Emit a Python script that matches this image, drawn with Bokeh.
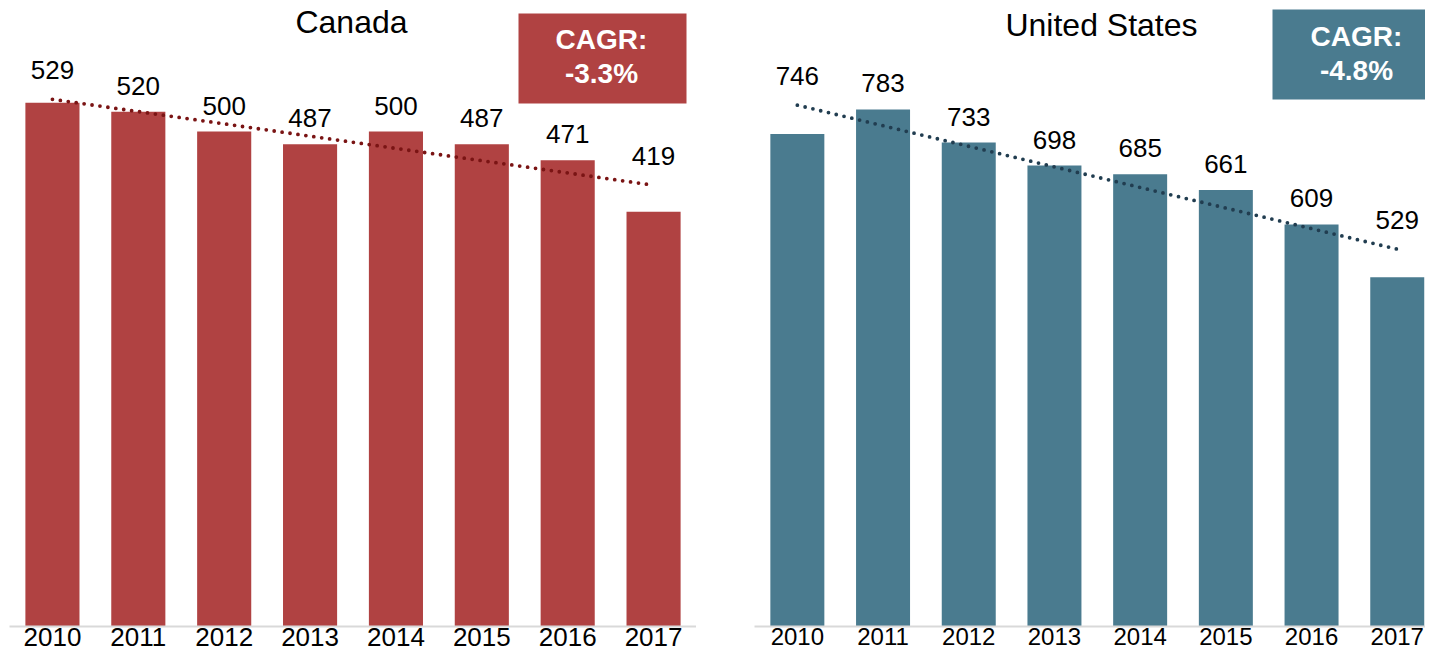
import numpy as np
from bokeh.plotting import figure
from bokeh.models import Range1d, ColumnDataSource, FixedTicker
from bokeh.layouts import row
from bokeh.embed import file_html
from bokeh.resources import INLINE
from bokeh.core.properties import value

# ---------------- data ----------------
years = ["2010", "2011", "2012", "2013", "2014", "2015", "2016", "2017"]
canada = [529, 520, 500, 487, 500, 487, 471, 419]
united_states = [746, 783, 733, 698, 685, 661, 609, 529]
titles = ["Canada", "United States"]

# ---------------- style / layout ----------------
CAN_COLOR = "#B04242"
US_COLOR = "#4A7B8F"
CAN_TREND = "#7A1414"
US_TREND = "#213D50"
FONT = "Liberation Sans"

FIG_H = 656
FRAME_H = 626          # figure y of the baseline (frame starts at top)
BOTTOM_BORDER = FIG_H - FRAME_H


def panel(title, vals, bar_color, trend_color, px_per_unit, fig_left,
          frame_left, frame_right, cat_w, title_xy, box_lrtb, cagr_cx,
          cagr_mids, tick_size):
    n = len(years)
    frame_w = frame_right - frame_left
    ymax = FRAME_H / px_per_unit
    xs = [i + 0.5 for i in range(n)]

    def xd(px):
        return (px - frame_left) / cat_w

    def yd(py):
        return (FRAME_H - py) / px_per_unit

    p = figure(width=frame_right - fig_left, height=FIG_H,
               x_range=Range1d(0, frame_w / cat_w), y_range=Range1d(0, ymax),
               output_backend="svg", toolbar_location=None,
               min_border_left=frame_left - fig_left, min_border_right=0,
               min_border_top=0, min_border_bottom=BOTTOM_BORDER,
               y_axis_location=None, outline_line_color=None,
               background_fill_color="white", border_fill_color="white")
    p.grid.visible = False

    ax = p.xaxis[0]
    ax.ticker = FixedTicker(ticks=xs)
    ax.major_label_overrides = {x: y for x, y in zip(xs, years)}
    ax.axis_line_color = "#D9D9D9"
    ax.axis_line_width = 2
    ax.major_tick_line_color = None
    ax.minor_tick_line_color = None
    ax.major_tick_out = 0
    ax.major_tick_in = 0
    ax.major_label_standoff = 1
    ax.major_label_text_font = FONT
    ax.major_label_text_font_size = tick_size
    ax.major_label_text_color = "#000000"

    # bars
    p.vbar(x=xs, top=vals, bottom=0, width=0.63,
           fill_color=bar_color, line_color=None)

    # linear trend (least squares)
    idx = np.arange(n)
    coef = np.polyfit(idx, vals, 1)
    trend = np.polyval(coef, idx)
    p.line(x=xs, y=trend, line_color=trend_color, line_width=3.8,
           line_dash="0 8", line_cap="round")

    # data labels: above bar; end labels lifted above the trend line
    lab_y = [v + 26 / px_per_unit for v in vals]
    for i in (0, n - 1):
        lab_y[i] = max(lab_y[i], trend[i] + 29 / px_per_unit)
    src = ColumnDataSource(dict(x=xs, y=lab_y, t=[str(v) for v in vals]))
    p.text(x="x", y="y", text="t", source=src, text_align="center",
           text_baseline="middle", text_font=value(FONT),
           text_font_size="26px", text_color="#000000")

    # title
    p.text(x=[xd(title_xy[0])], y=[yd(title_xy[1])], text=[title],
           text_align="center", text_baseline="middle",
           text_font=value(FONT), text_font_size="32px", text_color="#000000")

    # CAGR box
    l, r, t, b = box_lrtb
    p.quad(left=[xd(l)], right=[xd(r)], top=[yd(t)], bottom=[yd(b)],
           fill_color=bar_color, line_color=None)
    cagr = (vals[-1] / vals[0]) ** (1.0 / (n - 1)) - 1
    cx = xd(cagr_cx)
    p.text(x=[cx, cx], y=[yd(cagr_mids[0]), yd(cagr_mids[1])],
           text=["CAGR:", f"{cagr * 100:.1f}%"],
           text_align="center", text_baseline="middle",
           text_font=value(FONT), text_font_style="bold",
           text_font_size="28px", text_color="#FFFFFF")
    return p


p1 = panel(titles[0], canada, CAN_COLOR, CAN_TREND, 0.99, fig_left=0,
           frame_left=9, frame_right=696, cat_w=85.875,
           title_xy=(351, 21), box_lrtb=(518, 686, 13, 103), cagr_cx=601,
           cagr_mids=(39, 73), tick_size="26px")

p2 = panel(titles[1], united_states, US_COLOR, US_TREND, 0.6603, fig_left=696,
           frame_left=754, frame_right=1425, cat_w=85.7,
           title_xy=(1101, 24), box_lrtb=(1272, 1425, 9, 99), cagr_cx=1356,
           cagr_mids=(36, 70), tick_size="24px")

layout = row(p1, p2, spacing=0)
open("out.html", "w").write(file_html(layout, INLINE))
